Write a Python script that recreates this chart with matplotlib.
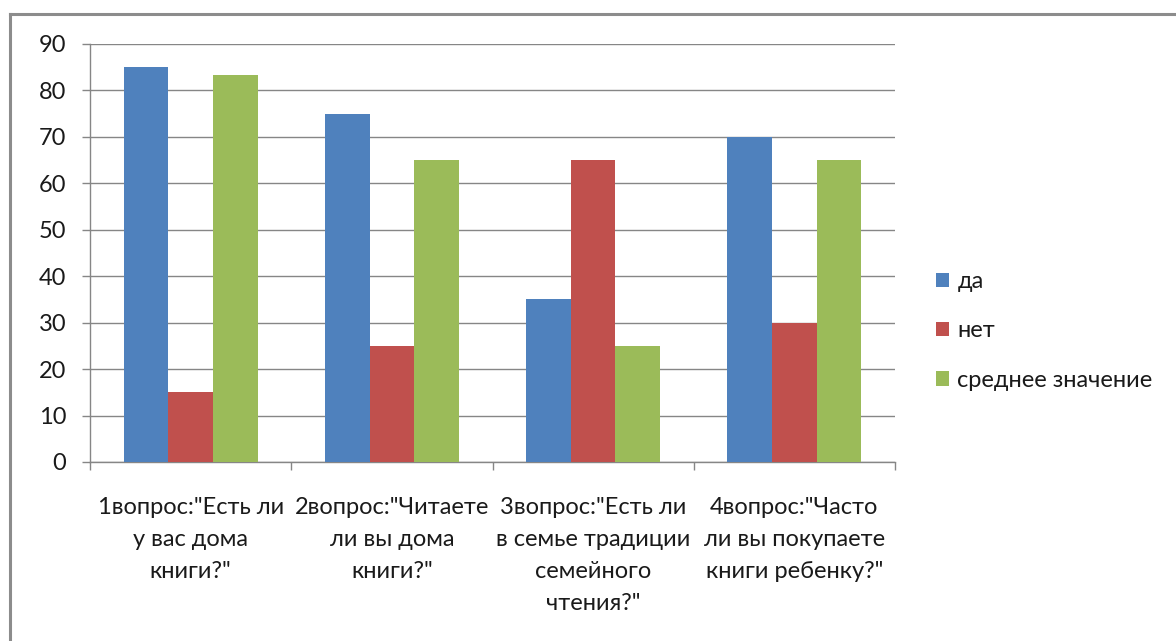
import matplotlib
matplotlib.use("Agg")
import matplotlib.pyplot as plt
from matplotlib.patches import Patch
import numpy as np

categories = ['1вопрос:"Есть ли\nу вас дома\nкниги?"',
              '2вопрос:"Читаете\nли вы дома\nкниги?"',
              '3вопрос:"Есть ли\nв семье традиции\nсемейного\nчтения?"',
              '4вопрос:"Часто\nли вы покупаете\nкниги ребенку?"']
series_names = ["да", "нет", "среднее значение"]
da = [85, 75, 35, 70]
net = [15, 25, 65, 30]
srednee = [83.3, 65, 25, 65]
colors = ["#4F81BD", "#C0504D", "#9BBB59"]
yticks = list(range(0, 100, 10))

plt.rcParams['font.family'] = ['Lato', 'DejaVu Sans']
FS = 17
W, H = 1176, 641
fig = plt.figure(figsize=(W/100, H/100), dpi=100)
ax = fig.add_axes([90/W, 1-462/H, (895-90)/W, (462-44)/H])

x = np.arange(len(categories))
bw = 1/4.5
for j, (vals, c) in enumerate(zip([da, net, srednee], colors)):
    ax.bar(x + (j-1)*bw, vals, width=bw, color=c, zorder=3, label=series_names[j])

ax.set_xlim(-0.5, len(categories)-0.5)
ax.set_ylim(0, 90)
ax.set_yticks(yticks)
ax.yaxis.grid(True, color="#868686", linewidth=1, zorder=0)
ax.set_axisbelow(True)
for s in ["top", "right"]:
    ax.spines[s].set_visible(False)
for s in ["left", "bottom"]:
    ax.spines[s].set_color("#868686")
    ax.spines[s].set_linewidth(1)

ax.set_xticks(x)
ax.set_xticklabels(categories, fontsize=FS, color="#1a1a1a", linespacing=1.65)
ax.tick_params(axis='x', which='major', length=0, pad=25)
ax.set_xticks(np.arange(-0.5, len(categories), 1), minor=True)
ax.tick_params(axis='x', which='minor', length=6, color="#868686", width=1)
ax.tick_params(axis='y', length=6, color="#868686", width=1, labelsize=FS, labelcolor="#1a1a1a", pad=11)

handles = [Patch(facecolor=c, edgecolor='none') for c in colors]
fig.legend(handles, series_names, loc='center left', bbox_to_anchor=(915/W, 1-331/H),
           frameon=False, fontsize=FS, handlelength=0.55, handleheight=0.55,
           handletextpad=0.35, labelspacing=1.2, labelcolor="#1a1a1a")

# outer frame
fig.add_artist(plt.Line2D([10/W, 10/W], [0, 1-14/H], transform=fig.transFigure, color="#8c8c8c", linewidth=2.2))
fig.add_artist(plt.Line2D([10/W, 1], [1-14/H, 1-14/H], transform=fig.transFigure, color="#8c8c8c", linewidth=2.2))

fig.savefig("out.png", dpi=100)
